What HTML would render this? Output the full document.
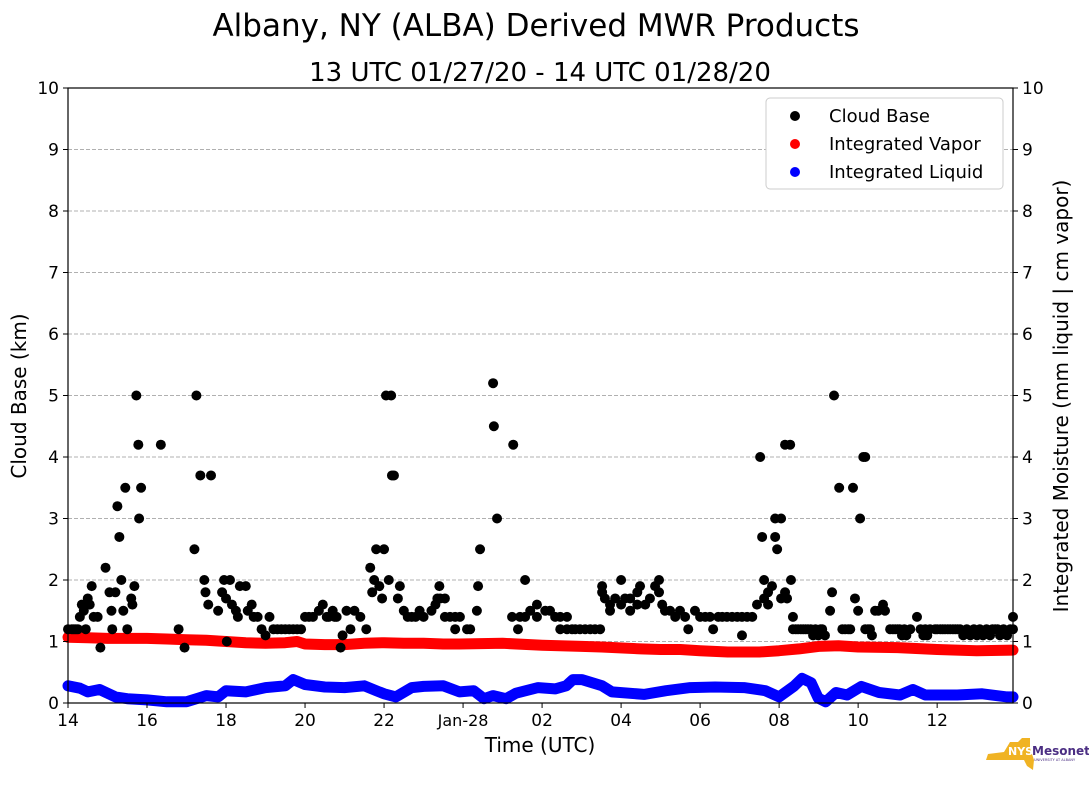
<!DOCTYPE html>
<html><head><meta charset="utf-8"><style>
body{margin:0;background:#fff;}
svg text{font-family:"DejaVu Sans","Liberation Sans",sans-serif;}
</style></head><body>
<svg id="chart" width="1089" height="804" xmlns="http://www.w3.org/2000/svg">
<text x="536" y="36" font-size="31" text-anchor="middle">Albany, NY (ALBA) Derived MWR Products</text>
<text x="540" y="81" font-size="26" text-anchor="middle">13 UTC 01/27/20 - 14 UTC 01/28/20</text>
<g id="grid"></g>
<g id="marks"></g>
<rect x="68" y="88" width="945" height="615" fill="none" stroke="#000" stroke-width="1.2"/>
<g id="axes"></g>
<text x="540" y="752" font-size="20" text-anchor="middle">Time (UTC)</text>
<text transform="translate(26,396) rotate(-90)" font-size="20" text-anchor="middle">Cloud Base (km)</text>
<text transform="translate(1068,396) rotate(-90)" font-size="20" text-anchor="middle">Integrated Moisture (mm liquid | cm vapor)</text>
<g>
<rect x="766" y="98" width="237" height="91" rx="4" fill="#fff" stroke="#ccc"/>
<circle cx="795" cy="116" r="5" fill="#000"/><text x="829" y="122" font-size="18">Cloud Base</text>
<circle cx="795" cy="144" r="5" fill="#f00"/><text x="829" y="150" font-size="18">Integrated Vapor</text>
<circle cx="795" cy="172" r="5" fill="#00f"/><text x="829" y="178" font-size="18">Integrated Liquid</text>
</g>
<g>
<polygon points="1010,742 1018,742 1022,738 1030,738 1030,748 1034,760 1033,770 1027,766 1024,760 986,760 988,754 1004,752" fill="#f0b323"/>
<text x="1008" y="755" font-size="11" font-weight="bold" fill="#fff">NYS</text>
<text x="1032" y="755" font-size="12" font-weight="bold" fill="#4b2e83">Mesonet</text>
<text x="1034" y="761" font-size="3.5" fill="#4b2e83">UNIVERSITY AT ALBANY</text>
</g>
</svg>
<script>
const xTickHours=[14,16,18,20,22,24,26,28,30,32,34,36];
const xTickLabels=["14","16","18","20","22","Jan-28","02","04","06","08","10","12"];
const yTicks=[0,1,2,3,4,5,6,7,8,9,10];
const vaporTime=[14,14.5,15,15.5,16,16.5,17,17.5,18,18.5,19,19.5,19.8,20,20.5,21,21.5,22,22.5,23,23.5,23.9,25,26,27,27.5,28.5,29,29.5,30,30.7,31.5,32,32.5,33,33.5,34,35,36,37,37.92];
const vaporVal=[1.07,1.06,1.05,1.05,1.05,1.04,1.03,1.02,1.0,0.98,0.97,0.98,1.0,0.96,0.95,0.95,0.97,0.98,0.97,0.97,0.96,0.96,0.97,0.94,0.92,0.91,0.88,0.87,0.87,0.85,0.83,0.83,0.85,0.88,0.92,0.93,0.91,0.9,0.87,0.85,0.86];
const liquidTime=[14,14.3,14.5,14.8,15.2,15.5,16,16.5,17,17.3,17.5,17.8,18,18.5,19,19.5,19.7,20,20.5,21,21.5,21.8,22,22.3,22.7,23,23.5,23.91,24.27,24.53,24.76,25.09,25.34,25.9,26.33,26.61,26.78,27.01,27.52,27.77,28.58,29.14,29.75,30.38,31.11,31.65,32.0,32.37,32.58,32.81,32.99,33.18,33.44,33.72,34.08,34.53,35.06,35.39,35.7,36.51,37.14,37.77,37.92];
const liquidVal=[0.28,0.24,0.18,0.22,0.1,0.07,0.05,0.02,0.02,0.08,0.12,0.1,0.2,0.18,0.25,0.28,0.38,0.3,0.26,0.25,0.28,0.2,0.15,0.1,0.25,0.27,0.28,0.18,0.2,0.07,0.12,0.07,0.16,0.25,0.23,0.28,0.38,0.38,0.28,0.18,0.14,0.2,0.25,0.26,0.25,0.2,0.1,0.27,0.4,0.33,0.08,0.02,0.17,0.13,0.27,0.17,0.13,0.22,0.13,0.13,0.15,0.1,0.1];
const cbTime=[
14.0,14.1,14.2,14.3,14.35,14.4,14.45,14.5,14.55,14.6,
14.65,14.75,14.82,14.95,15.05,15.1,15.12,15.2,15.25,15.3,
15.35,15.4,15.45,15.5,15.6,15.63,15.68,15.73,15.78,15.8,
15.85,16.35,16.8,16.95,17.2,17.25,17.35,17.45,17.48,17.55,
17.62,17.8,17.9,17.95,18.0,18.02,18.1,18.15,18.25,18.3,
18.35,18.5,18.55,18.65,18.7,18.8,18.9,19.0,19.1,19.2,
19.4,19.6,19.8,20.0,20.2,20.35,20.45,20.6,20.7,20.8,
20.9,20.95,21.05,21.15,21.25,21.4,21.55,21.65,21.7,21.75,
21.8,21.88,21.95,22.0,22.05,22.12,22.18,22.2,22.25,22.35,
22.4,22.5,22.6,22.8,22.9,23.0,23.2,23.3,23.35,23.4,
23.42,23.54,23.54,23.67,23.80,23.92,23.80,24.10,24.18,24.35,
24.38,24.43,24.76,24.78,24.86,25.24,25.27,25.39,25.44,25.57,
25.57,25.70,25.87,25.87,26.08,26.20,26.33,26.46,26.63,26.46,
26.63,26.76,26.84,26.96,27.09,27.22,27.34,27.47,27.52,27.52,
27.59,27.72,27.72,27.85,28.0,28.0,28.10,28.23,28.23,28.41,
28.41,28.48,28.61,28.73,28.86,28.96,28.96,29.04,29.11,29.24,
29.37,29.49,29.62,29.70,29.87,30.0,30.13,30.25,30.33,30.46,
30.56,30.68,30.81,30.94,31.06,31.06,31.19,31.32,31.44,31.52,
31.57,31.62,31.62,31.72,31.72,31.82,31.90,31.90,31.95,32.05,
32.05,32.15,32.15,32.20,32.28,32.30,32.35,32.35,32.48,32.61,
32.73,32.86,32.99,33.09,33.16,33.29,33.34,33.39,33.52,33.67,
33.80,33.87,33.92,34.0,34.05,34.13,34.18,34.18,34.25,34.35,
34.43,34.51,34.63,34.68,34.81,34.94,35.11,35.22,35.32,35.49,
35.65,35.75,35.82,35.95,36.08,36.20,36.33,36.46,36.66,36.84,
37.01,37.16,37.34,37.47,37.59,37.77,37.92,37.92,35.0,36.58];
const cbVal=[
1.2,1.2,1.2,1.4,1.6,1.5,1.2,1.7,1.6,1.9,
1.4,1.4,0.9,2.2,1.8,1.5,1.2,1.8,3.2,2.7,
2.0,1.5,3.5,1.2,1.7,1.6,1.9,5.0,4.2,3.0,
3.5,4.2,1.2,0.9,2.5,5.0,3.7,2.0,1.8,1.6,
3.7,1.5,1.8,2.0,1.7,1.0,2.0,1.6,1.5,1.4,
1.9,1.9,1.5,1.6,1.4,1.4,1.2,1.1,1.4,1.2,
1.2,1.2,1.2,1.4,1.4,1.5,1.6,1.4,1.5,1.4,
0.9,1.1,1.5,1.2,1.5,1.4,1.2,2.2,1.8,2.0,
2.5,1.9,1.7,2.5,5.0,2.0,5.0,3.7,3.7,1.7,
1.9,1.5,1.4,1.4,1.5,1.4,1.5,1.6,1.7,1.9,
1.7,1.7,1.4,1.4,1.4,1.4,1.2,1.2,1.2,1.5,
1.9,2.5,5.2,4.5,3.0,1.4,4.2,1.2,1.4,2.0,
1.4,1.5,1.6,1.4,1.5,1.5,1.4,1.4,1.4,1.2,
1.2,1.2,1.2,1.2,1.2,1.2,1.2,1.2,1.8,1.9,
1.7,1.6,1.5,1.7,2.0,1.6,1.7,1.5,1.7,1.8,
1.6,1.9,1.6,1.7,1.9,2.0,1.8,1.6,1.5,1.5,
1.4,1.5,1.4,1.2,1.5,1.4,1.4,1.4,1.2,1.4,
1.4,1.4,1.4,1.4,1.4,1.1,1.4,1.4,1.6,4.0,
2.7,2.0,1.7,1.6,1.8,1.9,2.7,3.0,2.5,3.0,
1.7,4.2,1.8,1.7,4.2,2.0,1.4,1.2,1.2,1.2,
1.2,1.1,1.1,1.2,1.1,1.5,1.8,5.0,3.5,1.2,
1.2,3.5,1.7,1.5,3.0,4.0,4.0,1.2,1.2,1.1,
1.5,1.5,1.6,1.5,1.2,1.2,1.1,1.1,1.2,1.4,
1.1,1.1,1.2,1.2,1.2,1.2,1.2,1.2,1.1,1.1,
1.1,1.1,1.1,1.2,1.1,1.1,1.4,1.2,1.2,1.2];
const cbFillT=[14.15,14.25,19.3,19.5,19.7,19.9,20.1,20.55,20.75,22.7,32.42,32.55,32.67,32.8,32.92,33.05,33.6,33.75,34.3,34.88,35.05,35.17,35.58,35.7,36.0,36.14,36.27,36.4,36.52,36.75,36.93,37.08,37.25,37.4,37.53,37.68,37.85];
const cbFillV=[1.2,1.2,1.2,1.2,1.2,1.2,1.4,1.4,1.4,1.4,1.2,1.2,1.2,1.2,1.2,1.2,1.2,1.2,1.2,1.2,1.2,1.2,1.2,1.2,1.2,1.2,1.2,1.2,1.2,1.2,1.2,1.2,1.2,1.2,1.2,1.2,1.2];

const X0=68,X1=1013,T0=14,T1=37.92,Y0=703,Y1=88;
const xs=t=>X0+(t-T0)/(T1-T0)*(X1-X0);
const ys=v=>Y0-v/10*(Y0-Y1);
const NS="http://www.w3.org/2000/svg";
function mk(tag,attrs,parent){const e=document.createElementNS(NS,tag);for(const k in attrs)e.setAttribute(k,attrs[k]);parent.appendChild(e);return e;}
const grid=document.getElementById('grid'),axes=document.getElementById('axes'),marks=document.getElementById('marks');
yTicks.forEach(v=>{
  const y=ys(v);
  if(v>0&&v<10){const g=mk('line',{x1:X0,x2:X1,y1:y,y2:y,stroke:'#b0b0b0','stroke-dasharray':'4,2','stroke-width':1},grid);
  
  }
  mk('line',{x1:X0-5,x2:X0,y1:y,y2:y,stroke:'#000'},axes);
  mk('line',{x1:X1,x2:X1+5,y1:y,y2:y,stroke:'#000'},axes);
  const l=mk('text',{x:X0-9,y:y+6,'font-size':17,'text-anchor':'end'},axes);l.textContent=v;
  
  
  const r=mk('text',{x:X1+9,y:y+6,'font-size':17},axes);r.textContent=v;
  
  
});
xTickHours.forEach((h,i)=>{
  const x=xs(h);
  mk('line',{x1:x,x2:x,y1:Y0,y2:Y0+5,stroke:'#000'},axes);
  const t=mk('text',{x:x,y:Y0+23,'font-size':i==5?16:17,'text-anchor':'middle'},axes);t.textContent=xTickLabels[i];
  
  
});
function band(times,vals,color,name){
  const p=times.map((t,i)=>xs(t).toFixed(1)+','+ys(vals[i]).toFixed(1)).join(' ');
  const pl=mk('polyline',{points:p,fill:'none',stroke:color,'stroke-width':11,'stroke-linejoin':'round','stroke-linecap':'round'},marks);
  
  
}
band(vaporTime,vaporVal,'#f00','integrated-vapor-series');
band(liquidTime,liquidVal,'#00f','integrated-liquid-series');
function dots(ts,vs){
  ts.forEach((t,i)=>{
    const c=mk('circle',{cx:xs(t),cy:ys(vs[i]),r:5,fill:'#000'},marks);
    
    
  });
}
dots(cbTime,cbVal);
dots(cbFillT,cbFillV);
</script>
</body></html>
